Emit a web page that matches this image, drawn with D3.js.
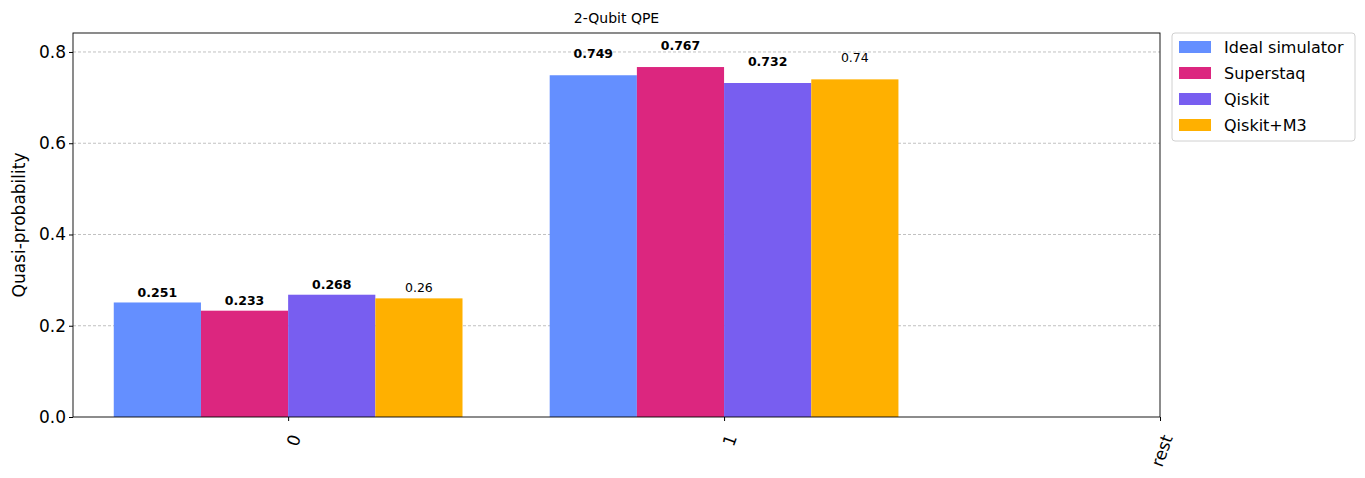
<!DOCTYPE html>
<html><head><meta charset="utf-8">
<script src="https://cdn.jsdelivr.net/npm/d3@7"></script>
<style>body{margin:0;background:#fff;font-family:"DejaVu Sans",sans-serif}</style>
</head><body><svg id="c" width="1365" height="478"></svg>
<script>
const categories = ["0", "1", "rest"];
const seriesNames = ["Ideal simulator", "Superstaq", "Qiskit", "Qiskit+M3"];
const seriesColors = ["#648fff", "#dc267f", "#785ef0", "#ffb000"];
const idealVals = [0.251, 0.749];
const superstaqVals = [0.233, 0.767];
const qiskitVals = [0.268, 0.732];
const m3Vals = [0.26, 0.74];
const labelBold = [true, true, true, false];
const yTicks = [0, 0.2, 0.4, 0.6, 0.8];
const allVals = [idealVals, superstaqVals, qiskitVals, m3Vals];

const svg = d3.select("#c");
const L = 73, R = 1160, T = 33, B = 417;
const x = d3.scaleLinear().domain([-0.4935, 2]).range([L, R]);
const y = d3.scaleLinear().domain([0, 0.8416]).range([B, T]);
const bw = 0.2;

svg.append("g").selectAll("line").data(yTicks.filter(d => d > 0)).join("line")
  .attr("x1", L).attr("x2", R).attr("y1", d => y(d)).attr("y2", d => y(d))
  .attr("stroke", "#b0b0b0").attr("stroke-dasharray", "3,2").attr("stroke-width", 0.8);

allVals.forEach((vals, s) => {
  const g = svg.append("g");
  vals.forEach((v, i) => {
    const x0 = i - 0.4 + s * bw;
    g.append("rect").attr("x", x(x0)).attr("width", x(x0 + bw) - x(x0))
      .attr("y", y(v)).attr("height", y(0) - y(v)).attr("fill", seriesColors[s]);
    g.append("text").attr("x", x(x0 + bw / 2)).attr("y", y(1.05 * v))
      .attr("text-anchor", "middle").attr("font-size", 12.5)
      .attr("font-weight", labelBold[s] ? "600" : "normal")
      .text(String(v));
  });
});

svg.append("rect").attr("x", L).attr("y", T).attr("width", R - L).attr("height", B - T)
  .attr("fill", "none").attr("stroke", "#000").attr("stroke-width", 0.9);

const ya = svg.append("g").attr("transform", `translate(${L},0)`)
  .call(d3.axisLeft(y).tickValues(yTicks).tickFormat(d3.format(".1f")).tickSize(4));
ya.select(".domain").remove();
ya.selectAll("text").attr("font-size", 17).attr("font-family", "DejaVu Sans").attr("fill", "#000");

const xa = svg.append("g").attr("transform", `translate(0,${B})`)
  .call(d3.axisBottom(x).tickValues([0, 1, 2]).tickFormat((d, i) => categories[i]).tickSize(4));
xa.select(".domain").remove();
xa.selectAll("text").attr("font-size", 17).attr("font-family", "DejaVu Sans").attr("fill", "#000")
  .attr("text-anchor", "end").attr("dx", 0).attr("dy", 0)
  .attr("transform", "translate(6,18) rotate(-70)");

svg.append("text").attr("x", (L + R) / 2).attr("y", 23).attr("text-anchor", "middle")
  .attr("font-size", 14).text("2-Qubit QPE");
svg.append("text").attr("transform", `translate(25,${(T + B) / 2}) rotate(-90)`)
  .attr("text-anchor", "middle").attr("font-size", 17).text("Quasi-probability");

const lg = svg.append("g");
lg.append("rect").attr("x", 1172).attr("y", 33).attr("width", 183).attr("height", 108)
  .attr("fill", "#fff").attr("stroke", "#d0d0d0").attr("rx", 3);
seriesNames.forEach((n, i) => {
  const yy = 47 + i * 26;
  lg.append("rect").attr("x", 1179).attr("y", yy - 6).attr("width", 32).attr("height", 12).attr("fill", seriesColors[i]);
  lg.append("text").attr("x", 1224).attr("y", yy + 6).attr("font-size", 16).text(n);
});
</script></body></html>
